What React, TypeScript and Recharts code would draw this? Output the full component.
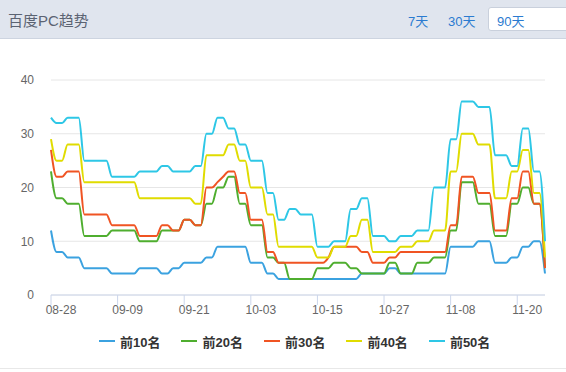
import { LineChart, Line, XAxis, YAxis, CartesianGrid } from 'recharts';

// 90 days, 08-28 .. 11-25
const dates = [
  '08-28', '08-29', '08-30', '08-31',
  '09-01', '09-02', '09-03', '09-04', '09-05', '09-06', '09-07', '09-08', '09-09', '09-10',
  '09-11', '09-12', '09-13', '09-14', '09-15', '09-16', '09-17', '09-18', '09-19', '09-20',
  '09-21', '09-22', '09-23', '09-24', '09-25', '09-26', '09-27', '09-28', '09-29', '09-30',
  '10-01', '10-02', '10-03', '10-04', '10-05', '10-06', '10-07', '10-08', '10-09', '10-10',
  '10-11', '10-12', '10-13', '10-14', '10-15', '10-16', '10-17', '10-18', '10-19', '10-20',
  '10-21', '10-22', '10-23', '10-24', '10-25', '10-26', '10-27', '10-28', '10-29', '10-30',
  '10-31', '11-01', '11-02', '11-03', '11-04', '11-05', '11-06', '11-07', '11-08', '11-09',
  '11-10', '11-11', '11-12', '11-13', '11-14', '11-15', '11-16', '11-17', '11-18', '11-19',
  '11-20', '11-21', '11-22', '11-23', '11-24', '11-25',
];

const top10 = [
  12, 8, 8, 7, 7, 7, 5, 5, 5, 5, 5, 4, 4, 4, 4, 4, 5, 5, 5, 5,
  4, 4, 5, 5, 6, 6, 6, 6, 7, 7, 9, 9, 9, 9, 9, 9, 6, 6, 6, 4,
  4, 3, 3, 3, 3, 3, 3, 3, 3, 3, 3, 3, 3, 3, 3, 3, 4, 4, 4, 4,
  4, 5, 5, 4, 4, 4, 4, 4, 4, 4, 4, 4, 9, 9, 9, 9, 9, 10, 10, 10,
  6, 6, 6, 7, 7, 9, 9, 10, 10, 4,
];

const top20 = [
  23, 18, 18, 17, 17, 17, 11, 11, 11, 11, 11, 12, 12, 12, 12, 12, 10, 10, 10, 10,
  12, 12, 12, 12, 14, 14, 13, 13, 17, 17, 20, 20, 22, 22, 17, 17, 13, 13, 13, 7,
  7, 6, 6, 3, 3, 3, 3, 3, 5, 5, 5, 6, 6, 6, 5, 5, 4, 4, 4, 4,
  4, 6, 6, 4, 4, 4, 6, 6, 6, 7, 7, 7, 12, 12, 21, 21, 21, 17, 17, 17,
  11, 11, 11, 17, 17, 20, 20, 17, 17, 5,
];

const top30 = [
  27, 22, 22, 23, 23, 23, 15, 15, 15, 15, 15, 13, 13, 13, 13, 13, 11, 11, 11, 11,
  13, 13, 12, 12, 14, 14, 13, 13, 20, 20, 21, 22, 23, 23, 19, 19, 14, 14, 14, 8,
  8, 6, 6, 6, 6, 6, 6, 6, 6, 6, 7, 9, 9, 9, 9, 9, 8, 8, 6, 6,
  6, 7, 7, 8, 8, 8, 8, 8, 8, 8, 8, 8, 13, 13, 22, 22, 22, 19, 19, 19,
  12, 12, 12, 18, 18, 23, 23, 17, 17, 5,
];

const top40 = [
  29, 25, 25, 28, 28, 28, 21, 21, 21, 21, 21, 21, 21, 21, 21, 21, 18, 18, 18, 18,
  18, 18, 18, 18, 18, 18, 17, 17, 26, 26, 26, 26, 28, 28, 25, 25, 20, 20, 20, 15,
  15, 9, 9, 9, 9, 9, 9, 9, 7, 7, 7, 9, 9, 9, 11, 11, 14, 14, 8, 8,
  8, 8, 8, 9, 9, 9, 10, 10, 10, 12, 12, 12, 23, 23, 30, 30, 30, 28, 28, 28,
  18, 18, 18, 23, 23, 27, 27, 19, 19, 7,
];

const top50 = [
  33, 32, 32, 33, 33, 33, 25, 25, 25, 25, 25, 22, 22, 22, 22, 22, 23, 23, 23, 23,
  24, 24, 23, 23, 23, 23, 24, 24, 30, 30, 33, 33, 31, 31, 28, 28, 25, 25, 25, 19,
  19, 14, 14, 16, 16, 15, 15, 15, 9, 9, 9, 10, 10, 10, 16, 16, 18, 18, 11, 11,
  11, 10, 10, 11, 11, 11, 12, 12, 12, 20, 20, 20, 29, 29, 36, 36, 36, 35, 35, 35,
  26, 26, 26, 24, 24, 31, 31, 23, 23, 10,
];

const yTicks = [0, 10, 20, 30, 40];

const seriesDefs = [
  { key: 'top10', name: '前10名', color: '#3ba2e0' },
  { key: 'top20', name: '前20名', color: '#4fae2f' },
  { key: 'top30', name: '前30名', color: '#f05423' },
  { key: 'top40', name: '前40名', color: '#e0dc00' },
  { key: 'top50', name: '前50名', color: '#2ec7e6' },
];

const rows = dates.map((date, i) => ({
  date,
  top10: top10[i],
  top20: top20[i],
  top30: top30[i],
  top40: top40[i],
  top50: top50[i],
}));

const FONT = 'Arial, "Liberation Sans", "Noto Sans CJK SC", sans-serif';

// labels sit a bit right of their tick in the original
const XTick = (props: any) => {
  const { x, y, payload } = props;
  return (
    <text x={x + 10} y={y + 9} textAnchor="middle" fill="#666" fontSize={12} fontFamily={FONT}>
      {payload.value}
    </text>
  );
};

export default function App() {
  return (
    <div
      style={{
        position: 'absolute',
        left: 0,
        top: 0,
        width: 566,
        height: 372,
        background: '#fff',
        fontFamily: FONT,
        overflow: 'hidden',
      }}
    >
      {/* header bar */}
      <div
        style={{
          position: 'absolute',
          left: 0,
          top: 0,
          width: 566,
          height: 38,
          background: '#e0e5ee',
          borderBottom: '1px solid #cdd4e0',
        }}
      >
        <span style={{ position: 'absolute', left: 8, top: 9, fontSize: 15, color: '#5b6372' }}>
          百度PC趋势
        </span>
        <span style={{ position: 'absolute', left: 408, top: 11, fontSize: 13, color: '#2b7bd0' }}>7天</span>
        <span style={{ position: 'absolute', left: 448, top: 11, fontSize: 13, color: '#2b7bd0' }}>30天</span>
        <div
          style={{
            position: 'absolute',
            left: 488,
            top: 7,
            width: 90,
            height: 24,
            background: '#fff',
            border: '1px solid #c9d0dc',
            borderRadius: 3,
            boxSizing: 'border-box',
          }}
        >
          <span style={{ position: 'absolute', left: 8, top: 3, fontSize: 13, color: '#2b7bd0' }}>90天</span>
        </div>
      </div>

      <div style={{ position: 'absolute', left: 0, top: 0 }}>
        <LineChart
          width={566}
          height={372}
          data={rows}
          margin={{ top: 80, right: 21, bottom: 47, left: 11 }}
        >
          <CartesianGrid vertical={false} stroke="#e6e6e6" />
          <XAxis
            dataKey="date"
            interval={11}
            height={30}
            tickSize={10}
            tickMargin={0}
            axisLine={{ stroke: '#ccd6eb' }}
            tickLine={{ stroke: '#ccd6eb' }}
            tick={<XTick />}
          />
          <YAxis
            domain={[0, 40]}
            ticks={yTicks}
            width={40}
            axisLine={false}
            tickLine={false}
            tickSize={6}
            tickMargin={11}
            tick={{ fill: '#666', fontSize: 12, fontFamily: FONT }}
          />
          {seriesDefs.map((s) => (
            <Line
              key={s.key}
              type="monotone"
              dataKey={s.key}
              name={s.name}
              stroke={s.color}
              strokeWidth={2}
              dot={false}
              activeDot={false}
              isAnimationActive={false}
            />
          ))}
        </LineChart>
      </div>

      {/* legend */}
      <div
        style={{
          position: 'absolute',
          left: 99,
          top: 332,
          display: 'flex',
          alignItems: 'center',
          height: 18,
        }}
      >
        {seriesDefs.map((s) => (
          <div key={s.key} style={{ display: 'flex', alignItems: 'center', marginRight: 21 }}>
            <span style={{ display: 'inline-block', width: 16, height: 2, background: s.color, marginRight: 5 }} />
            <span style={{ fontSize: 13, fontWeight: 'bold', color: '#333' }}>{s.name}</span>
          </div>
        ))}
      </div>

      <div style={{ position: 'absolute', left: 0, top: 368, width: 566, height: 1, background: '#e8e8e8' }} />
    </div>
  );
}
